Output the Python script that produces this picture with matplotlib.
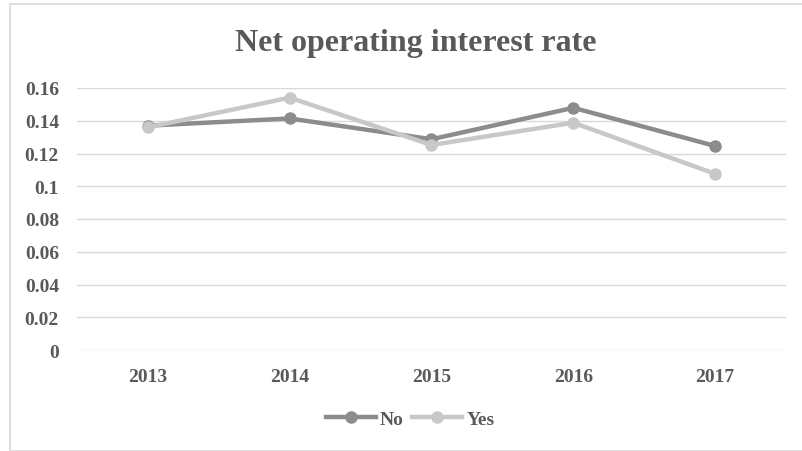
import matplotlib.pyplot as plt
from matplotlib.patches import Rectangle
from matplotlib.lines import Line2D

years = ["2013", "2014", "2015", "2016", "2017"]
no_vals = [0.137, 0.1414, 0.1287, 0.1479, 0.1246]
yes_vals = [0.136, 0.1541, 0.1252, 0.1388, 0.1076]
y_ticks = [0, 0.02, 0.04, 0.06, 0.08, 0.1, 0.12, 0.14, 0.16]
y_tick_labels = ["0", "0.02", "0.04", "0.06", "0.08", "0.1", "0.12", "0.14", "0.16"]

text_color = "#595959"
no_color = "#8c8c8c"
yes_color = "#c8c8c8"
plt.rcParams["font.family"] = ["Liberation Serif", "DejaVu Serif"]
plt.rcParams["font.weight"] = "bold"

fig = plt.figure(figsize=(8.02, 4.52), dpi=100)
W, H = 802, 452
fig.patches.append(Rectangle((10 / W, 0), 1.0, 1 - 5 / H, transform=fig.transFigure,
                             fill=False, edgecolor="#d9d9d9", linewidth=1.2))

ax = fig.add_axes([77 / W, 1 - 351 / H, (786 - 77) / W, (351 - 89) / H])
x = list(range(len(years)))
ax.plot(x, no_vals, color=no_color, linewidth=3.2, marker="o", markersize=8, label="No", zorder=3)
ax.plot(x, yes_vals, color=yes_color, linewidth=3.2, marker="o", markersize=8, label="Yes", zorder=4)

ax.set_xlim(-0.5, len(years) - 0.5)
ax.set_ylim(0, 0.16)
ax.set_yticks(y_ticks)
ax.set_yticklabels(y_tick_labels)
ax.set_xticks(x)
ax.set_xticklabels(years)
ax.grid(axis="y", color="#d9d9d9", linewidth=1)
ax.set_axisbelow(True)
for s in ax.spines.values():
    s.set_visible(False)
ax.tick_params(length=0, labelsize=14, colors=text_color)
ax.tick_params(axis="y", pad=13)
ax.tick_params(axis="x", pad=13)
for lab in ax.get_xticklabels() + ax.get_yticklabels():
    lab.set_fontweight("bold")

fig.text(416 / W, 1 - 44 / H, "Net operating interest rate", ha="center", va="center",
         fontsize=23, fontweight="bold", color=text_color)

handles = [Line2D([], [], color=no_color, lw=3.2, marker="o", markersize=8),
           Line2D([], [], color=yes_color, lw=3.2, marker="o", markersize=8)]
fig.legend(handles, ["No", "Yes"], loc="center", bbox_to_anchor=(410 / W, 1 - 420 / H),
           ncol=2, frameon=False, labelcolor=text_color,
           handlelength=2.6, handletextpad=0.2, columnspacing=0.4,
           prop={"weight": "bold", "size": 14})

fig.savefig("out.png", dpi=100)
